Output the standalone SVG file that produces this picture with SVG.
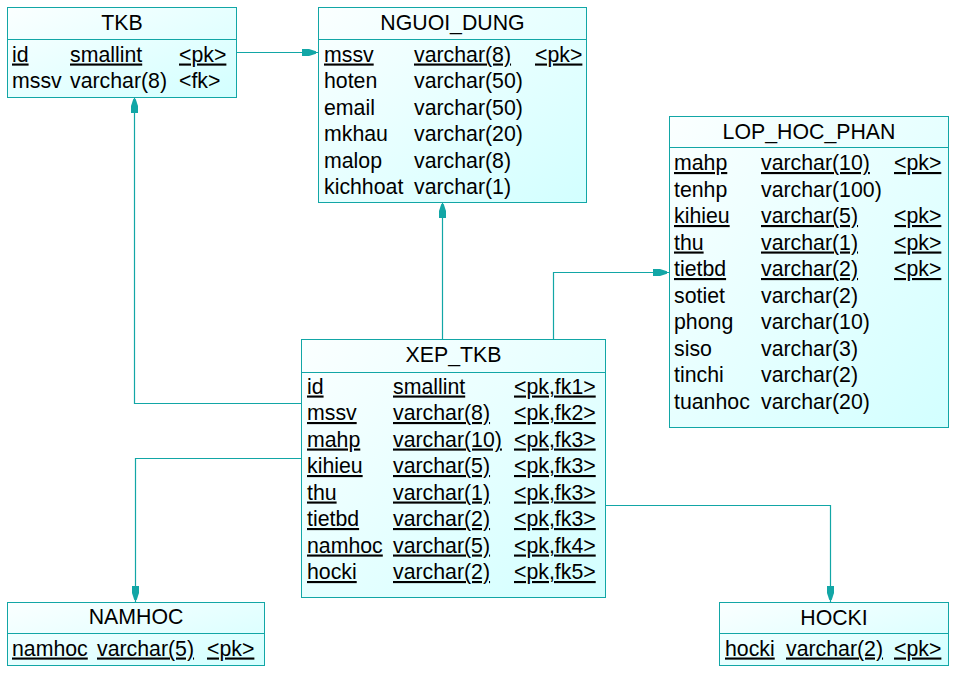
<svg xmlns="http://www.w3.org/2000/svg" width="956" height="677" viewBox="0 0 956 677">
<style>
.box{fill:url(#g);stroke:#12a6a6;stroke-width:1}
.sep{stroke:#12a6a6;stroke-width:1}
text{font-family:"Liberation Sans",Arial,sans-serif;font-size:21.3px;fill:#000}
.t{text-anchor:middle}
.u{text-decoration:underline}
.c{fill:none;stroke:#12a6a6;stroke-width:1.2}
</style>
<defs>
<linearGradient id="g" x1="0" y1="0" x2="1" y2="1">
<stop offset="0" stop-color="#fbffff"/>
<stop offset="1" stop-color="#d2ffff"/>
</linearGradient>
<marker id="a" markerUnits="userSpaceOnUse" markerWidth="20" markerHeight="12" viewBox="-18 -6 20 12" refX="0" refY="0" orient="auto">
<path d="M-16,-3.5 L-9,-3.5 L-2,-1.2 L-2,1.2 L-9,3.5 L-16,3.5 Z" fill="#12a6a6"/>
</marker>
</defs>
<rect width="956" height="677" fill="#fff"/>
<g id="connectors">
<path class="c" d="M301,403.5 H134.5 V97" marker-end="url(#a)"/>
<path class="c" d="M236,52.5 H318" marker-end="url(#a)"/>
<path class="c" d="M442.5,339 V202" marker-end="url(#a)"/>
<path class="c" d="M553.5,339 V272.5 H669" marker-end="url(#a)"/>
<path class="c" d="M301,458.5 H135.5 V602" marker-end="url(#a)"/>
<path class="c" d="M605,505.5 H830.5 V602" marker-end="url(#a)"/>
</g>
<g id="TKB">
<rect class="box" x="7.5" y="7.5" width="229" height="90"/>
<line class="sep" x1="7.5" y1="39.5" x2="236.5" y2="39.5"/>
<text class="t" x="122" y="30">TKB</text>
<text class="u" x="12" y="61.5">id</text><text class="u" x="70" y="61.5">smallint</text><text class="u" x="179" y="61.5">&lt;pk&gt;</text>
<text x="12" y="88">mssv</text><text x="70" y="88">varchar(8)</text><text x="179" y="88">&lt;fk&gt;</text>
</g>
<g id="NGUOI_DUNG">
<rect class="box" x="318.5" y="7.5" width="268" height="195"/>
<line class="sep" x1="318.5" y1="39.5" x2="586.5" y2="39.5"/>
<text class="t" x="452.5" y="30">NGUOI_DUNG</text>
<text class="u" x="324" y="61.5">mssv</text><text class="u" x="414" y="61.5">varchar(8)</text><text class="u" x="535" y="61.5">&lt;pk&gt;</text>
<text x="324" y="88">hoten</text><text x="414" y="88">varchar(50)</text>
<text x="324" y="114.5">email</text><text x="414" y="114.5">varchar(50)</text>
<text x="324" y="141">mkhau</text><text x="414" y="141">varchar(20)</text>
<text x="324" y="167.5">malop</text><text x="414" y="167.5">varchar(8)</text>
<text x="324" y="194">kichhoat</text><text x="414" y="194">varchar(1)</text>
</g>
<g id="LOP_HOC_PHAN">
<rect class="box" x="669.5" y="116.5" width="279" height="311"/>
<line class="sep" x1="669.5" y1="147.5" x2="948.5" y2="147.5"/>
<text class="t" x="809" y="138.5">LOP_HOC_PHAN</text>
<text class="u" x="674" y="170">mahp</text><text class="u" x="761" y="170">varchar(10)</text><text class="u" x="894" y="170">&lt;pk&gt;</text>
<text x="674" y="196.5">tenhp</text><text x="761" y="196.5">varchar(100)</text>
<text class="u" x="674" y="223">kihieu</text><text class="u" x="761" y="223">varchar(5)</text><text class="u" x="894" y="223">&lt;pk&gt;</text>
<text class="u" x="674" y="249.5">thu</text><text class="u" x="761" y="249.5">varchar(1)</text><text class="u" x="894" y="249.5">&lt;pk&gt;</text>
<text class="u" x="674" y="276">tietbd</text><text class="u" x="761" y="276">varchar(2)</text><text class="u" x="894" y="276">&lt;pk&gt;</text>
<text x="674" y="302.5">sotiet</text><text x="761" y="302.5">varchar(2)</text>
<text x="674" y="329">phong</text><text x="761" y="329">varchar(10)</text>
<text x="674" y="355.5">siso</text><text x="761" y="355.5">varchar(3)</text>
<text x="674" y="382">tinchi</text><text x="761" y="382">varchar(2)</text>
<text x="674" y="408.5">tuanhoc</text><text x="761" y="408.5">varchar(20)</text>
</g>
<g id="XEP_TKB">
<rect class="box" x="301.5" y="339.5" width="304" height="258"/>
<line class="sep" x1="301.5" y1="372.5" x2="605.5" y2="372.5"/>
<text class="t" x="453.5" y="361.5">XEP_TKB</text>
<text class="u" x="307" y="393.5">id</text><text class="u" x="393" y="393.5">smallint</text><text class="u" x="514" y="393.5">&lt;pk,fk1&gt;</text>
<text class="u" x="307" y="420">mssv</text><text class="u" x="393" y="420">varchar(8)</text><text class="u" x="514" y="420">&lt;pk,fk2&gt;</text>
<text class="u" x="307" y="446.5">mahp</text><text class="u" x="393" y="446.5">varchar(10)</text><text class="u" x="514" y="446.5">&lt;pk,fk3&gt;</text>
<text class="u" x="307" y="473">kihieu</text><text class="u" x="393" y="473">varchar(5)</text><text class="u" x="514" y="473">&lt;pk,fk3&gt;</text>
<text class="u" x="307" y="499.5">thu</text><text class="u" x="393" y="499.5">varchar(1)</text><text class="u" x="514" y="499.5">&lt;pk,fk3&gt;</text>
<text class="u" x="307" y="526">tietbd</text><text class="u" x="393" y="526">varchar(2)</text><text class="u" x="514" y="526">&lt;pk,fk3&gt;</text>
<text class="u" x="307" y="552.5">namhoc</text><text class="u" x="393" y="552.5">varchar(5)</text><text class="u" x="514" y="552.5">&lt;pk,fk4&gt;</text>
<text class="u" x="307" y="579">hocki</text><text class="u" x="393" y="579">varchar(2)</text><text class="u" x="514" y="579">&lt;pk,fk5&gt;</text>
</g>
<g id="NAMHOC">
<rect class="box" x="7.5" y="602.5" width="257" height="63"/>
<line class="sep" x1="7.5" y1="633.5" x2="264.5" y2="633.5"/>
<text class="t" x="136" y="624">NAMHOC</text>
<text class="u" x="12" y="655.5">namhoc</text><text class="u" x="97" y="655.5">varchar(5)</text><text class="u" x="207" y="655.5">&lt;pk&gt;</text>
</g>
<g id="HOCKI">
<rect class="box" x="719.5" y="602.5" width="229" height="63"/>
<line class="sep" x1="719.5" y1="633.5" x2="948.5" y2="633.5"/>
<text class="t" x="834" y="624.5">HOCKI</text>
<text class="u" x="725" y="655.5">hocki</text><text class="u" x="786" y="655.5">varchar(2)</text><text class="u" x="894" y="655.5">&lt;pk&gt;</text>
</g>
</svg>
